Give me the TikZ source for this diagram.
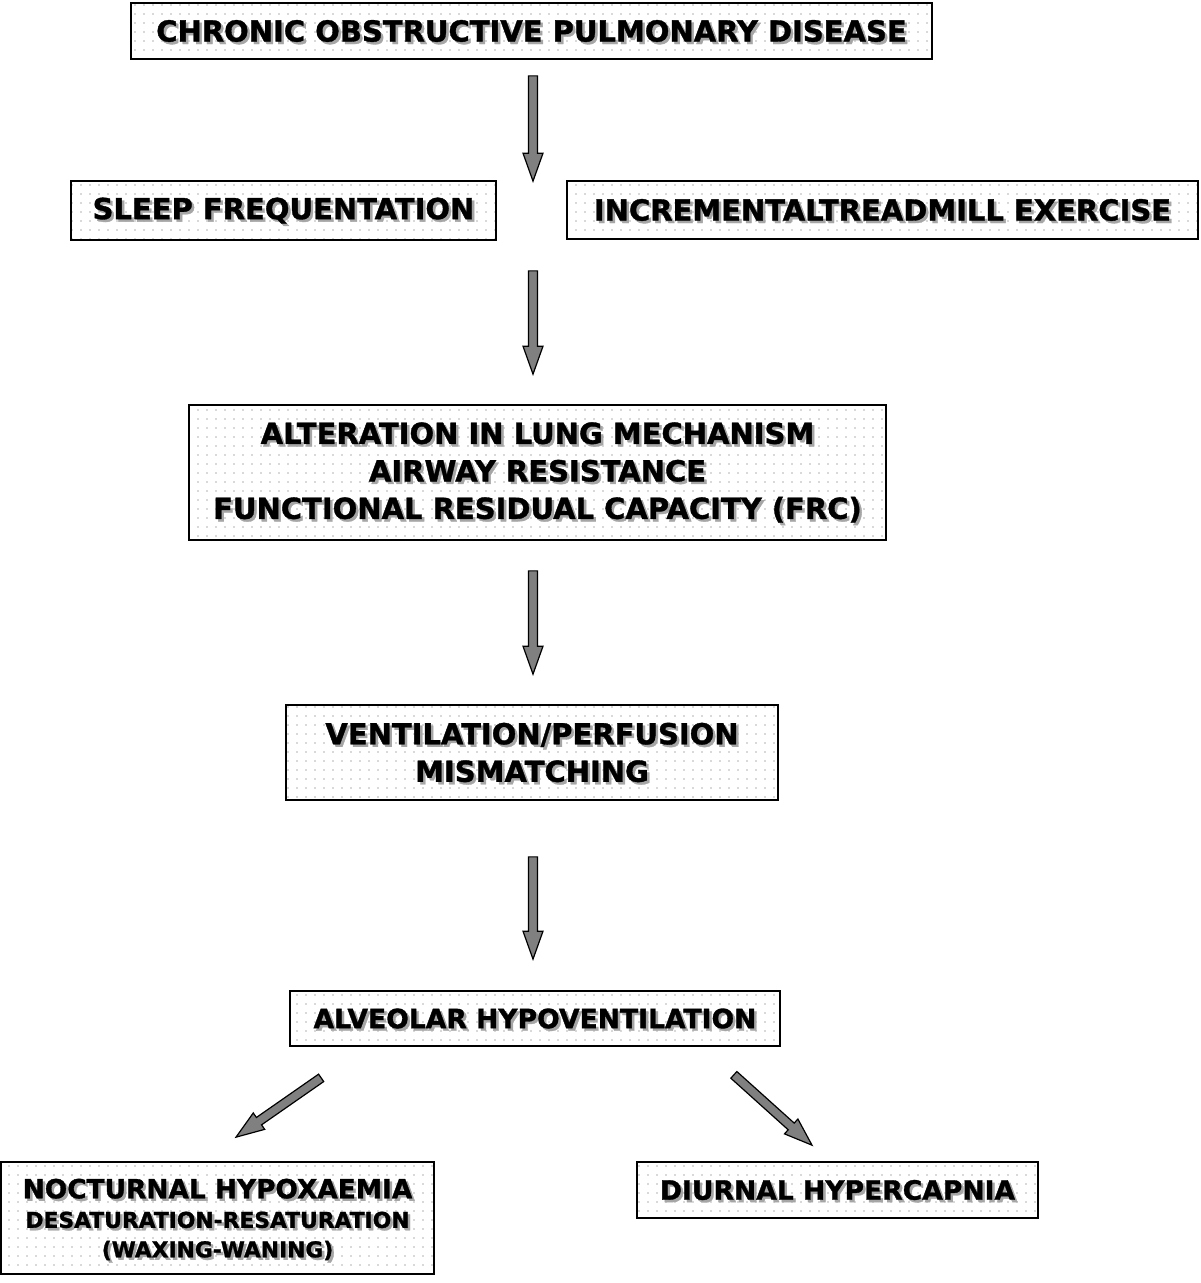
\documentclass[tikz,border=0pt]{standalone}
\usepackage{fontspec}
\setmainfont{DejaVu Sans}[BoldFeatures={FakeBold=1.2}]
\usetikzlibrary{calc,patterns.meta}

\tikzdeclarepattern{name=sparsedots, type=uncolored,
  bottom left={(-1pt,-1pt)}, top right={(9pt,9pt)}, tile size={(9pt,9pt)},
  code={\fill (0,0) circle (0.9pt);}}

\newcommand{\shadowtxt}[1]{\rlap{\smash{\textcolor{black!35}{\kern2.5pt\raisebox{-2.5pt}{#1}}}}#1}

% block arrow between two points
\newcommand{\fatarrow}[2]{%
  \coordinate (fa-s) at (#1);
  \coordinate (fa-e) at (#2);
  \coordinate (fa-h) at ($(fa-e)!28pt!(fa-s)$);
  \filldraw[arrowfill] ($(fa-s)!4.5pt!90:(fa-e)$) -- ($(fa-h)!4.5pt!90:(fa-e)$)
    -- ($(fa-h)!10pt!90:(fa-e)$) -- (fa-e) -- ($(fa-h)!10pt!-90:(fa-e)$)
    -- ($(fa-h)!4.5pt!-90:(fa-e)$) -- ($(fa-s)!4.5pt!-90:(fa-e)$) -- cycle;}

\begin{document}
\begin{tikzpicture}[x=1pt,y=-1pt,
  box/.style={draw, line width=1.7pt, pattern=sparsedots, pattern color=black!30, align=center, inner sep=0pt},
  big/.style={font=\bfseries\fontsize{29}{37.5}\selectfont},
  mid/.style={font=\bfseries\fontsize{26.6}{33}\selectfont},
  small/.style={font=\bfseries\fontsize{21.8}{29.5}\selectfont},
  arrowfill/.style={fill=black!50, draw=black, line width=1.2pt, line join=miter}]
	\useasboundingbox (0,0) rectangle (1200,1283);

	\node[box, big, minimum width=801pt, minimum height=56pt] (copd) at (531.5,31) {\shadowtxt{CHRONIC OBSTRUCTIVE PULMONARY DISEASE}};
	\node[box, big, minimum width=425pt, minimum height=59pt] (sleep) at (283.5,210.5) {\shadowtxt{SLEEP FREQUENTATION}};
	\node[box, big, minimum width=631pt, minimum height=58pt] (exer) at (882.5,210) {\shadowtxt{INCREMENTALTREADMILL EXERCISE}};
	\node[box, big, minimum width=697pt, minimum height=135pt] (lung) at (537.5,472.5) {\shadowtxt{ALTERATION IN LUNG MECHANISM}\\ \shadowtxt{AIRWAY RESISTANCE}\\ \shadowtxt{FUNCTIONAL RESIDUAL CAPACITY (FRC)}};
	\node[box, big, minimum width=492pt, minimum height=95pt] (vq) at (532,752.5) {\shadowtxt{VENTILATION/PERFUSION}\\ \shadowtxt{MISMATCHING}};
	\node[box, mid, minimum width=490pt, minimum height=55pt] (alv) at (535,1018.5) {\shadowtxt{ALVEOLAR HYPOVENTILATION}};
	\node[box, small, minimum width=433pt, minimum height=112pt, text depth=-3pt] (noct) at (217.5,1218) {{\fontsize{26.4}{31}\selectfont\shadowtxt{NOCTURNAL HYPOXAEMIA}}\\ \shadowtxt{DESATURATION-RESATURATION}\\ \shadowtxt{(WAXING-WANING)}};
	\node[box, mid, minimum width=401pt, minimum height=56pt] (diur) at (837.5,1190) {\shadowtxt{DIURNAL HYPERCAPNIA}};

	\coordinate (axis) at (533,0);
	\fatarrow{$(axis |- copd.south)+(0,16)$}{$(axis |- sleep.north)+(0,1)$}
	\fatarrow{$(axis |- sleep.south)+(0,30)$}{$(axis |- lung.north)+(0,-30)$}
	\fatarrow{$(axis |- lung.south)+(0,30)$}{$(axis |- vq.north)+(0,-30)$}
	\fatarrow{$(axis |- vq.south)+(0,56)$}{$(axis |- alv.north)+(0,-31)$}
	\fatarrow{$(alv.south west)+(32,31)$}{$(noct.north)+(18.5,-24)$}
	\fatarrow{$(alv.south east)+(-47,28)$}{$(diur.north)+(-25.5,-16)$}
\end{tikzpicture}
\end{document}
